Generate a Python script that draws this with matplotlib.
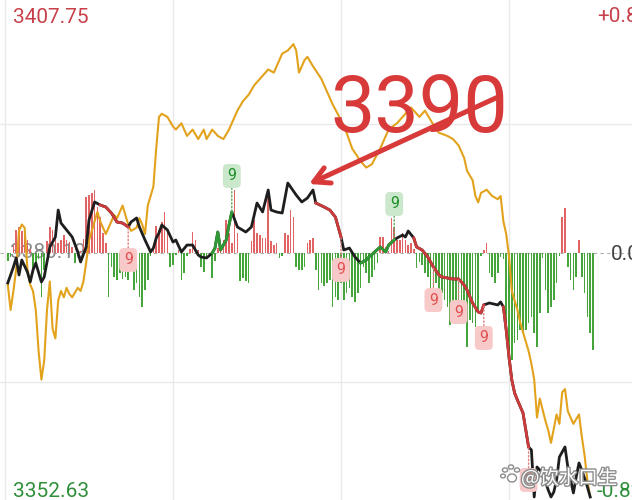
"""
分時走勢圖重繪：黑線為指數，金線為對照指數（百分比），柱狀為資金差，
紅綠的 9 為連續計數標記。
"""
import numpy as np
import matplotlib; matplotlib.use("Agg"); import matplotlib.pyplot as plt
from matplotlib import patheffects as pe
from matplotlib.patches import Circle, Ellipse

W, H = 632, 500
BASE = 3380.19
HI, LO = 3407.75, 3352.63
PCT_HI = "+0.82%"; PCT_MID = "0.00%"; PCT_LO = "-0.82%"

# 黑線：分鐘, 點位
BLK_T = [1, 3, 4, 5, 6, 8, 9, 10, 11, 13, 14, 16, 18, 19, 20, 22, 24, 26, 27, 29,
         30, 32, 34, 36, 38, 40, 42, 44, 45, 47, 48, 50, 52, 53, 54, 55, 56, 58, 60, 61,
         63, 65, 67, 69, 70, 72, 74, 75, 76, 77, 79, 80, 81, 83, 86, 88, 90, 92, 94, 95,
         97, 99, 101, 104, 106, 108, 110, 111, 114, 116, 118, 119, 120, 121, 123, 125, 127, 129, 130, 132,
         134, 136, 137, 139, 140, 142, 143, 144, 146, 147, 149, 151, 153, 155, 156, 158, 160, 162, 164, 165,
         167, 169, 170, 171, 173, 176, 177, 178, 179, 180, 181, 182, 183, 185, 186, 187, 188, 189, 190, 192,
         194, 195, 196, 197, 198, 200, 201, 203, 204, 205, 206, 208, 209]
BLK_V = [3376.99, 3378.69, 3379.66, 3377.84, 3379.44, 3378.16, 3377.09, 3378.37, 3379.12, 3377.09,
         3377.63, 3380.83, 3381.90, 3384.78, 3383.39, 3382.65, 3381.90, 3380.30, 3379.23, 3380.83,
         3383.71, 3385.64, 3385.32, 3385.10, 3384.46, 3383.50, 3383.39, 3382.97, 3383.50, 3383.93,
         3382.97, 3381.58, 3380.30, 3380.72, 3381.79, 3382.33, 3383.18, 3382.65, 3381.36, 3381.58,
         3380.30, 3381.04, 3381.04, 3379.98, 3379.76, 3379.66, 3380.19, 3380.72, 3382.43, 3380.51,
         3381.58, 3383.18, 3384.57, 3382.97, 3382.43, 3382.97, 3385.53, 3384.57, 3386.92, 3384.78,
         3384.57, 3384.46, 3387.67, 3386.38, 3385.64, 3386.06, 3386.92, 3385.53, 3385.10, 3384.78,
         3384.03, 3382.97, 3381.90, 3380.51, 3380.72, 3379.76, 3379.12, 3379.44, 3379.76, 3380.30,
         3380.83, 3380.30, 3381.04, 3381.58, 3381.79, 3382.11, 3381.90, 3382.54, 3381.79, 3380.83,
         3380.51, 3379.76, 3378.69, 3377.84, 3377.63, 3377.52, 3377.41, 3377.41, 3376.77, 3376.24,
         3374.85, 3373.89, 3373.78, 3374.64, 3374.85, 3374.64, 3374.96, 3374.42, 3371.97, 3369.08,
         3366.63, 3365.24, 3364.49, 3363.10, 3361.29, 3359.47, 3359.15, 3354.13, 3357.33, 3356.69,
         3354.88, 3354.13, 3354.66, 3355.95, 3358.40, 3359.47, 3357.33, 3354.56, 3356.27, 3357.76,
         3357.01, 3355.20, 3354.13]

# 金線：分鐘, 漲跌幅(%)
GOLD_T = [1, 2, 3, 4, 5, 6, 7, 8, 9, 10, 11, 12, 13, 14, 15, 16, 17, 18, 19, 20,
          21, 22, 23, 24, 26, 27, 28, 29, 30, 32, 33, 34, 36, 38, 39, 40, 42, 44, 45, 47,
          48, 49, 50, 51, 53, 54, 55, 56, 58, 60, 61, 63, 65, 67, 69, 71, 72, 74, 76, 78,
          80, 82, 83, 85, 87, 89, 90, 92, 94, 96, 97, 99, 101, 103, 104, 105, 107, 108, 110, 113,
          115, 117, 120, 122, 124, 127, 129, 131, 134, 137, 140, 142, 145, 146, 148, 150, 152, 154, 155, 158,
          160, 162, 164, 165, 167, 168, 169, 170, 172, 174, 176, 177, 178, 179, 180, 181, 183, 184, 185, 187,
          188, 189, 190, 191, 193, 194, 195, 197, 198, 199, 200, 201, 203, 205, 206, 207, 208, 209]
GOLD_PCT = [-0.10, -0.18, -0.12, -0.05, 0.07, 0.09, 0.08, -0.05, -0.10, -0.12,
            -0.18, -0.31, -0.40, -0.34, -0.18, -0.09, -0.24, -0.27, -0.15, -0.12,
            -0.14, -0.11, -0.13, -0.14, -0.11, -0.12, -0.09, -0.03, 0.04, 0.10,
            0.13, 0.10, 0.06, 0.10, 0.12, 0.11, 0.15, 0.09, 0.07, 0.08,
            0.11, 0.09, 0.06, 0.15, 0.21, 0.33, 0.43, 0.44, 0.43, 0.40,
            0.39, 0.41, 0.37, 0.39, 0.36, 0.39, 0.36, 0.39, 0.37, 0.36,
            0.39, 0.43, 0.45, 0.48, 0.50, 0.53, 0.54, 0.56, 0.58, 0.57,
            0.59, 0.63, 0.64, 0.66, 0.64, 0.57, 0.61, 0.62, 0.59, 0.55,
            0.51, 0.47, 0.42, 0.38, 0.33, 0.29, 0.27, 0.28, 0.33, 0.39,
            0.41, 0.43, 0.46, 0.45, 0.43, 0.45, 0.42, 0.39, 0.38, 0.37,
            0.36, 0.34, 0.30, 0.26, 0.23, 0.18, 0.16, 0.19, 0.20, 0.18,
            0.17, 0.18, 0.10, 0.06, -0.01, -0.12, -0.18, -0.22, -0.25, -0.31,
            -0.35, -0.40, -0.52, -0.46, -0.53, -0.56, -0.60, -0.51, -0.54, -0.44,
            -0.43, -0.50, -0.54, -0.51, -0.58, -0.64, -0.72, -0.77]

# 柱狀：每分鐘一根，正為紅、負為綠
BAR_V = [0, -8, -4, 8, 23, 26, 22, 25, 13, 4,
         -20, -14, -6, -44, -17, 12, 26, 23, 15, 10,
         13, 18, 13, 11, 6, -10, -3, 2, 14, 56,
         58, 60, 63, 46, 36, 20, 10, -44, -14, -24,
         -27, -20, -26, -24, -27, -14, -37, -30, -44, -54,
         -37, -27, -3, 5, 27, 23, 31, 41, 23, -14,
         -12, -2, 3, -27, -20, -3, 4, 21, 13, 3,
         -14, -19, -6, -4, -25, -8, 5, 11, 13, 33,
         20, 10, 63, 20, -28, -25, -28, -30, 12, 33,
         20, 18, 15, 15, 60, 12, 8, 10, -5, -3,
         20, 18, 43, 36, -14, -17, -17, -14, 10, 13,
         15, -17, -37, -30, -33, -30, -27, -54, -44, -47,
         -30, -47, -40, -35, -44, -49, -40, -35, -14, -20,
         -30, -24, -17, -10, 16, 16, 6, 2, 35, 26,
         13, 13, 20, 13, 8, 10, 4, -15, -9, -12,
         -20, -24, -37, -34, -30, -37, -40, -47, -54, -72,
         -64, -70, -60, -70, -60, -94, -67, -70, -74, -57,
         -3, 3, 10, -20, -24, -30, -20, -4, -6, -70,
         -97, -107, -90, -87, -77, -80, -77, -70, -64, -80,
         -94, -60, -5, -37, -60, -54, -47, -30, -3, 36,
         45, -14, -27, -37, -24, 13, -24, -40, -64, -80,
         -97]

RED_RUNS = [(33, 44), (111, 120), (146, 171), (178, 187)]
GREEN_RUNS = [(73, 81), (127, 139)]
NINE_RED = [44, 120, 153, 162, 171, 187]
NINE_GREEN = [81, 139]
GRID_T = [0, 60, 120, 180]

assert len(BLK_T) == len(BLK_V) and len(GOLD_T) == len(GOLD_PCT)

RED = "#d9423f"; GREEN = "#2f9a33"; GOLD = "#e2a21c"
BAR_RED = "#e06464"; BAR_GREEN = "#45a53b"
FONT = ["Roboto", "DejaVu Sans"]


def main():
    t = np.array(BLK_T); v = np.array(BLK_V)
    gt = np.array(GOLD_T); gv = BASE * (1 + np.array(GOLD_PCT) / 100)
    bars = np.array(BAR_V)
    k = (HI - BASE) / 258  # 每像素的點數

    fig = plt.figure(figsize=(W / 100, H / 100), dpi=100)
    axb = fig.add_axes([0, 0, 1, 1])
    ax = fig.add_axes([0, 0, 1, 1], sharex=axb)
    ax.patch.set_visible(False)
    axb.set_xlim(-5 / 2.8, (W - 5) / 2.8)
    axb.set_ylim(-247, 253)
    ax.set_ylim(BASE - 247 * k, BASE + 253 * k)
    for a in (ax, axb):
        a.axis("off")

    # 格線
    for g in GRID_T:
        axb.axvline(g, color="#e9e9e9", lw=1, zorder=0)
    for q in (BASE + (HI - BASE) / 2, BASE - (BASE - LO) / 2):
        ax.axhline(q, color="#e9e9e9", lw=1, zorder=0)
    axb.axhline(0, color="#b0b0b0", lw=0.8, ls=(0, (3, 3)), zorder=0)
    axb.text(10 / 2.8 - 5 / 2.8, 0, "3380.19", fontsize=15, family=FONT,
             color="#8a8a8a", va="center", ha="left", zorder=0.5)

    # 柱狀
    x = np.arange(len(bars))
    axb.bar(x, bars, width=0.62, color=np.where(bars > 0, BAR_RED, BAR_GREEN), zorder=1)

    # 線
    ax.plot(gt, gv, color=GOLD, lw=1.5, zorder=2, solid_joinstyle="round")
    ax.plot(t, v, color="#1e1e1e", lw=2.0, zorder=3, solid_joinstyle="round")
    for runs, c in ((RED_RUNS, "#cc3b3b"), (GREEN_RUNS, GREEN)):
        for a, b in runs:
            m = (t >= a) & (t <= b)
            ax.plot(t[m], v[m], color=c, lw=2.0, zorder=4, solid_joinstyle="round")

    val = dict(zip(BLK_T, BLK_V))
    for m in NINE_RED:
        ax.annotate("9", xy=(m, val[m]), xytext=(0, -33), textcoords="offset pixels",
                    ha="center", va="center", fontsize=11.5, family=FONT, color="#e05252",
                    bbox=dict(boxstyle="round,pad=0.28", fc="#f8c9c9", ec="none"),
                    arrowprops=dict(arrowstyle="-", ls=":", color="#e08080", lw=1,
                                    shrinkA=0, shrinkB=0), zorder=6)
    for m in NINE_GREEN:
        ax.annotate("9", xy=(m, val[m]), xytext=(0, 36), textcoords="offset pixels",
                    ha="center", va="center", fontsize=11.5, family=FONT, color="#1f8f2a",
                    bbox=dict(boxstyle="round,pad=0.28", fc="#cbe8cc", ec="none"),
                    arrowprops=dict(arrowstyle="-", ls=":", color="#5aa85a", lw=1,
                                    shrinkA=0, shrinkB=0), zorder=6)

    # 標示 3390 與箭頭
    fig.text(419 / W, 1 - 132 / H, "3390", fontsize=57, family=FONT, color="#d83a3a",
             ha="center", va="baseline")
    ax.annotate("", xy=(309 / W, 1 - 184 / H), xytext=(498 / W, 1 - 97 / H),
                xycoords="figure fraction", textcoords="figure fraction",
                arrowprops=dict(arrowstyle="->,head_length=1.1,head_width=0.6",
                                color="#d83a3a", lw=3.6, shrinkA=0, shrinkB=0), zorder=7)

    # 刻度文字
    fig.text(13 / W, 1 - 23 / H, f"{HI:.2f}", fontsize=15, family=FONT, color="#c8414a", va="baseline")
    fig.text(13 / W, 1 - 497 / H, f"{LO:.2f}", fontsize=15, family=FONT, color="#2f8f3a", va="baseline")
    fig.text(597 / W, 1 - 22 / H, PCT_HI, fontsize=15, family=FONT, color="#c8414a", va="baseline")
    fig.text(611 / W, 1 - 260 / H, PCT_MID, fontsize=15, family=FONT, color="#444444", va="baseline")
    fig.text(597 / W, 1 - 497 / H, PCT_LO, fontsize=15, family=FONT, color="#2f8f3a", va="baseline")

    # 浮水印
    wm = [pe.withStroke(linewidth=2, foreground="#8c8c8c")]
    fig.text(521 / W, 1 - 484 / H, "@饮水口生", fontsize=14,
             family=["Noto Sans CJK SC", "DejaVu Sans"], color="white", va="baseline", path_effects=wm)
    for cx, cy, r in ((505, 470, 2.6), (511, 467, 2.6), (517, 470, 2.6), (503, 476, 2.4)):
        fig.add_artist(Circle((cx / W, 1 - cy / H), r / W, transform=fig.transFigure,
                              fc="white", ec="#8c8c8c", lw=1, zorder=8))
    fig.add_artist(Ellipse((512 / W, 1 - 478 / H), 9 / W, 8 / H, transform=fig.transFigure,
                           fc="white", ec="#8c8c8c", lw=1, zorder=8))

    fig.savefig("out.png", dpi=100)
    plt.close(fig)


if __name__ == "__main__":
    main()
